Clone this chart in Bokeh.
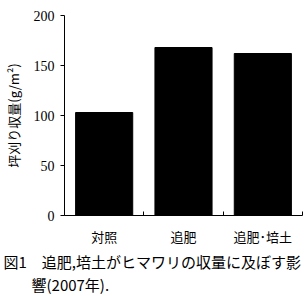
from bokeh.plotting import figure
from bokeh.models import FixedTicker, Range1d, Title, ColumnDataSource
from bokeh.embed import file_html
from bokeh.resources import INLINE

categories = ["対照", "追肥", "追肥･培土"]
yields = [103, 168, 162]
y_ticks = [0, 50, 100, 150, 200]
y_label = "坪刈り収量(g/m²)"
caption1 = "図1　追肥,培土がヒマワリの収量に及ぼす影"
caption2 = "響(2007年)."

xs = [i + 0.5 for i in range(len(categories))]
src = ColumnDataSource(dict(x=xs, top=yields))

p = figure(width=306, height=296, output_backend="svg", toolbar_location=None,
           x_range=Range1d(0, len(categories)), y_range=Range1d(0, 200),
           min_border_left=64, min_border_right=4, min_border_top=15, min_border_bottom=81)
p.outline_line_color = None
p.xgrid.visible = False
p.ygrid.visible = False
p.vbar(x="x", top="top", width=0.72, source=src, color="black")

serif = "Liberation Serif"
jp = "Noto Sans CJK JP"

p.xaxis.ticker = FixedTicker(ticks=xs, minor_ticks=list(range(len(categories) + 1)))
p.xaxis.major_label_overrides = {x: c for x, c in zip(xs, categories)}
p.xaxis.major_tick_line_color = None
p.xaxis.minor_tick_in = 4
p.xaxis.minor_tick_out = 0
p.xaxis.minor_tick_line_color = "black"
p.xaxis.axis_line_color = "black"
p.xaxis.major_label_standoff = 5
p.xaxis.major_label_text_font = jp
p.xaxis.major_label_text_font_size = "13px"
p.xaxis.major_label_text_color = "black"

p.yaxis.ticker = FixedTicker(ticks=y_ticks)
p.yaxis.minor_tick_line_color = None
p.yaxis.major_tick_in = 0
p.yaxis.major_tick_out = 4
p.yaxis.major_tick_line_color = "black"
p.yaxis.axis_line_color = "black"
p.yaxis.major_label_standoff = 6
p.yaxis.major_label_text_font = serif
p.yaxis.major_label_text_font_size = "14px"
p.yaxis.major_label_text_color = "black"
p.yaxis.axis_label = y_label
p.yaxis.axis_label_text_font = jp
p.yaxis.axis_label_text_font_style = "normal"
p.yaxis.axis_label_text_font_size = "13px"
p.yaxis.axis_label_text_color = "black"
p.yaxis.axis_label_standoff = 8

t1 = Title(text=caption1, align="left", offset=-61, text_font=jp, text_font_size="15px",
           text_font_style="normal", text_color="black", standoff=0, text_line_height=1.0)
t2 = Title(text=caption2, align="left", offset=-33, text_font=jp, text_font_size="15px",
           text_font_style="normal", text_color="black", standoff=0, text_line_height=1.0)
p.add_layout(t1, "below")
p.add_layout(t2, "below")

open("out.html", "w").write(file_html(p, INLINE))
